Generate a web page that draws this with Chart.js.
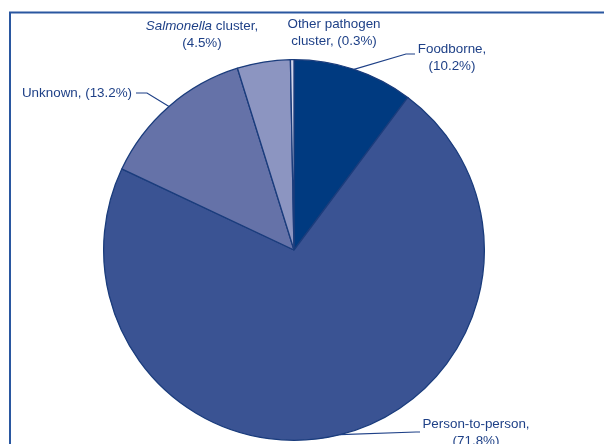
<!DOCTYPE html>
<html>
<head>
<meta charset="utf-8">
<script src="https://cdn.jsdelivr.net/npm/chart.js@4.4.1/dist/chart.umd.min.js"></script>
<style>
  html, body { margin: 0; padding: 0; background: #fff; }
  #wrap { width: 604px; height: 444px; }
</style>
</head>
<body>
<div id="wrap"><canvas id="pieChart" width="604" height="444"></canvas></div>
<script>
// data
const categories = ['Foodborne', 'Person-to-person', 'Unknown', 'Salmonella cluster', 'Other pathogen cluster'];
const shares = [10.2, 71.8, 13.2, 4.5, 0.3];
const sliceColors = ['#003a80', '#3a5393', '#6572a8', '#8c95c1', '#d3d6ea'];

const textColor = '#1e4087';
const fontFamily = '"Liberation Sans", Arial, sans-serif';
const fontSize = 13.4;

// label layout: text lines (parts with italic flag), centre x, first line y, elbow points
const labelLayout = [
  { lines: [[['Foodborne,', false]], [['(10.2%)', false]]], x: 452, y: 49, leader: [[406, 54], [415, 54]] },
  { lines: [[['Person-to-person,', false]], [['(71.8%)', false]]], x: 476, y: 424, leader: [[416, 432], [420, 432]] },
  { lines: [[['Unknown, (13.2%)', false]]], x: 77, y: 93, leader: [[147, 93], [136, 93]] },
  { lines: [[['Salmonella', true], [' cluster,', false]], [['(4.5%)', false]]], x: 202, y: 26, leader: null },
  { lines: [[['Other pathogen', false]], [['cluster, (0.3%)', false]]], x: 334, y: 24, leader: null }
];

const framePlugin = {
  id: 'frame',
  beforeDraw(chart) {
    const ctx = chart.ctx;
    ctx.save();
    ctx.strokeStyle = '#2a57a0';
    ctx.lineWidth = 2;
    ctx.beginPath();
    ctx.moveTo(10, 444);
    ctx.lineTo(10, 12.5);
    ctx.lineTo(604, 12.5);
    ctx.stroke();
    ctx.restore();
  }
};

const labelPlugin = {
  id: 'sliceLabels',
  afterDraw(chart) {
    const ctx = chart.ctx;
    const meta = chart.getDatasetMeta(0);
    ctx.save();
    meta.data.forEach((arc, i) => {
      const lay = labelLayout[i];
      if (!lay) return;
      const p = arc.getProps(['x', 'y', 'startAngle', 'endAngle', 'outerRadius'], true);
      const mid = (p.startAngle + p.endAngle) / 2;
      if (lay.leader) {
        const ax = p.x + Math.cos(mid) * p.outerRadius;
        const ay = p.y + Math.sin(mid) * p.outerRadius;
        ctx.strokeStyle = textColor;
        ctx.lineWidth = 1.2;
        ctx.beginPath();
        ctx.moveTo(ax, ay);
        lay.leader.forEach(pt => ctx.lineTo(pt[0], pt[1]));
        ctx.stroke();
      }
      ctx.fillStyle = textColor;
      ctx.textBaseline = 'middle';
      ctx.textAlign = 'left';
      lay.lines.forEach((parts, li) => {
        let total = 0;
        parts.forEach(([t, it]) => {
          ctx.font = (it ? 'italic ' : '') + fontSize + 'px ' + fontFamily;
          total += ctx.measureText(t).width;
        });
        let x = lay.x - total / 2;
        const y = lay.y + li * 17;
        parts.forEach(([t, it]) => {
          ctx.font = (it ? 'italic ' : '') + fontSize + 'px ' + fontFamily;
          ctx.fillText(t, x, y);
          x += ctx.measureText(t).width;
        });
      });
    });
    ctx.restore();
  }
};

new Chart(document.getElementById('pieChart'), {
  type: 'pie',
  data: {
    labels: categories,
    datasets: [{
      data: shares,
      backgroundColor: sliceColors,
      borderColor: '#1a3c7c',
      borderWidth: 1.3
    }]
  },
  options: {
    responsive: false,
    animation: false,
    layout: { padding: { left: 103, right: 119, top: 59, bottom: 3 } },
    plugins: {
      legend: { display: false },
      tooltip: { enabled: false }
    }
  },
  plugins: [framePlugin, labelPlugin]
});
</script>
</body>
</html>
